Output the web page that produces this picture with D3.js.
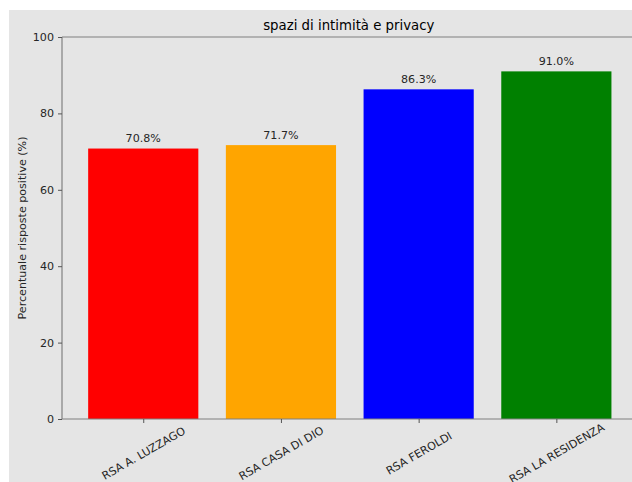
<!DOCTYPE html>
<html><head><meta charset="utf-8">
<script src="https://cdn.jsdelivr.net/npm/d3@7"></script>
<style>body{margin:0;background:#fff}svg{display:block;font-family:"DejaVu Sans",sans-serif}</style>
</head><body><svg id="c" width="632" height="482"></svg>
<script>
const categories = ["RSA A. LUZZAGO","RSA CASA DI DIO","RSA FEROLDI","RSA LA RESIDENZA"];
const values = [70.8, 71.7, 86.3, 91.0];
const colors = ["#ff0000","#ffa500","#0000ff","#008000"];
const yTicks = [0,20,40,60,80,100];
const title = "spazi di intimità e privacy";
const yLabel = "Percentuale risposte positive (%)";

const FS = 11.1, TFS = 13.3;
const svg = d3.select("#c");
svg.append("rect").attr("x",9).attr("y",10).attr("width",640).attr("height",490).attr("fill","#e5e5e5");
const L=62, T=37, B=419, R=637.6;
const x = d3.scaleLinear().domain([-0.59, 3.59]).range([L, R]);
const y = d3.scaleLinear().domain([0,100]).range([B, T]);
const bw = x(0.4)-x(-0.4);

const g = svg.append("g");
g.selectAll("rect.bar").data(values).join("rect").attr("class","bar")
  .attr("x",(d,i)=>x(i)-bw/2).attr("width",bw)
  .attr("y",d=>y(d)).attr("height",d=>y(0)-y(d))
  .attr("fill",(d,i)=>colors[i]);
g.selectAll("text.val").data(values).join("text").attr("class","val")
  .attr("x",(d,i)=>x(i)).attr("y",d=>y(d)-6.5)
  .attr("text-anchor","middle").attr("font-size",FS).attr("fill","#262626")
  .text(d=>d.toFixed(1)+"%");

const sp="#808080";
svg.append("line").attr("x1",L).attr("x2",L).attr("y1",T).attr("y2",B).attr("stroke",sp).attr("stroke-width",1.2);
svg.append("line").attr("x1",L).attr("x2",R).attr("y1",T).attr("y2",T).attr("stroke",sp).attr("stroke-width",1.2);
svg.append("line").attr("x1",L).attr("x2",R).attr("y1",B).attr("y2",B).attr("stroke",sp).attr("stroke-width",1.2);

const ya = svg.append("g").attr("transform",`translate(${L},0)`)
  .call(d3.axisLeft(y).tickValues(yTicks).tickSize(4).tickPadding(4).tickFormat(d3.format("d")));
ya.select(".domain").remove();
ya.selectAll("line").attr("stroke","#555");
ya.selectAll("text").attr("font-size",FS).attr("fill","#262626").attr("font-family","DejaVu Sans");

const xa = svg.append("g").attr("transform",`translate(0,${B})`)
  .call(d3.axisBottom(x).tickValues(d3.range(categories.length)).tickSize(4).tickFormat(i=>categories[i]));
xa.select(".domain").remove();
xa.selectAll("line").attr("stroke","#555");
xa.selectAll("text").attr("font-size",FS).attr("fill","#262626").attr("font-family","DejaVu Sans")
  .attr("text-anchor","middle").attr("dy",null).attr("y",null)
  .attr("transform","translate(0,34.5) rotate(-30)").attr("dominant-baseline","central");

svg.append("text").attr("x",(L+R)/2-1).attr("y",30).attr("text-anchor","middle")
  .attr("font-size",TFS).attr("fill","#000").text(title);
svg.append("text").attr("transform",`translate(26,${(T+B)/2}) rotate(-90)`)
  .attr("text-anchor","middle").attr("font-size",FS).attr("fill","#262626").text(yLabel);
</script></body></html>
